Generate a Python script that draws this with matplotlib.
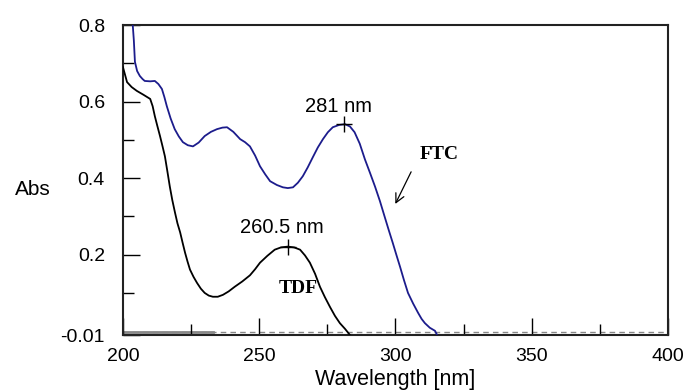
import numpy as np
import matplotlib.pyplot as plt

plt.rcParams['font.family'] = ['Liberation Sans', 'DejaVu Sans']

# FTC spectrum (blue)
ftc_wl = [203.6, 204.0, 204.4, 205.2, 206.2, 207.2, 208.0, 210.0, 211.7, 213.0,
          214.3, 215.2, 216.1, 217.5, 219.0, 220.5, 222.0, 223.8, 225.7, 227.8,
          230.0, 232.3, 234.5, 236.5, 238.2, 240.5, 243.0, 244.8, 246.6, 248.5,
          250.3, 252.2, 254.0, 256.5, 258.7, 260.5, 262.4, 264.2, 266.0, 267.8,
          269.7, 271.5, 273.4, 275.2, 277.0, 279.3, 281.5, 283.3, 285.0, 286.9,
          288.8, 290.7, 292.5, 294.3, 296.0, 297.5, 299.0, 300.4, 301.7, 303.1,
          304.6, 306.5, 308.3, 309.6, 310.8, 312.6, 314.5, 315.3]
ftc_abs = [0.800, 0.760, 0.704, 0.680, 0.667, 0.659, 0.654, 0.653, 0.654, 0.646,
           0.633, 0.612, 0.588, 0.556, 0.528, 0.509, 0.494, 0.486, 0.483, 0.493,
           0.510, 0.521, 0.528, 0.532, 0.533, 0.521, 0.502, 0.494, 0.483, 0.459,
           0.431, 0.410, 0.392, 0.382, 0.376, 0.374, 0.376, 0.388, 0.405, 0.428,
           0.455, 0.480, 0.502, 0.520, 0.533, 0.539, 0.541, 0.535, 0.520, 0.490,
           0.449, 0.413, 0.378, 0.340, 0.300, 0.265, 0.231, 0.198, 0.168, 0.134,
           0.100, 0.072, 0.048, 0.032, 0.021, 0.009, 0.001, -0.010]

# TDF spectrum (black)
tdf_wl = [200.0, 200.7, 201.5, 203.2, 205.1, 207.5, 210.0, 210.9, 211.7, 212.6,
          213.6, 214.5, 215.4, 216.3, 217.2, 218.1, 219.1, 220.0, 221.0, 221.9,
          222.8, 223.7, 224.6, 225.9, 227.2, 228.6, 230.0, 231.5, 233.0, 234.8,
          236.7, 238.8, 241.0, 243.8, 246.6, 248.5, 250.3, 253.0, 255.7, 258.0,
          260.5, 262.8, 265.0, 266.8, 268.6, 270.5, 272.3, 274.1, 276.0, 277.8,
          279.6, 281.5, 283.3]
tdf_abs = [0.690, 0.672, 0.651, 0.638, 0.628, 0.618, 0.607, 0.588, 0.562, 0.537,
           0.510, 0.484, 0.457, 0.418, 0.378, 0.343, 0.310, 0.282, 0.258, 0.231,
           0.205, 0.182, 0.161, 0.142, 0.126, 0.111, 0.100, 0.093, 0.090, 0.090,
           0.095, 0.104, 0.116, 0.130, 0.146, 0.162, 0.179, 0.197, 0.213, 0.219,
           0.221, 0.219, 0.213, 0.198, 0.179, 0.150, 0.116, 0.089, 0.063, 0.040,
           0.021, 0.006, -0.010]

peaks_wl = [281.0, 260.5]
peaks_abs = [0.541, 0.221]
peak_labels = ['281 nm', '260.5 nm']
label_pos = [(279.0, 0.588), (258.4, 0.272)]

fig = plt.figure(figsize=(6.83, 3.92), dpi=100)
ax = fig.add_axes([0.180, 0.1454, 0.798, 0.7906])

ax.axhline(-0.002, color='#888888', lw=1.0, ls=(0, (4, 3)), zorder=1)
ax.plot([200, 233], [-0.002, -0.002], color='#888888', lw=2.0, zorder=1)

ax.plot(ftc_wl, ftc_abs, color='#1c1c8c', lw=1.3, zorder=3)
ax.plot(tdf_wl, tdf_abs, color='black', lw=1.3, zorder=3)
ax.plot(peaks_wl, peaks_abs, ls='none', marker='+', ms=11, mew=1.0,
        color='black', zorder=4)

for (x, y), lab in zip(label_pos, peak_labels):
    ax.text(x, y, lab, ha='center', va='center', fontsize=14.5)

ax.text(309, 0.462, 'FTC', family='Liberation Serif', fontweight='bold',
        fontsize=14, ha='left', va='center')
ax.text(257, 0.112, 'TDF', family='Liberation Serif', fontweight='bold',
        fontsize=14, ha='left', va='center')
ax.annotate('', xy=(299.5, 0.326), xytext=(306.2, 0.423),
            arrowprops=dict(arrowstyle='->', color='black', lw=0.9,
                            mutation_scale=16))

ax.set_xlim(200, 400)
ax.set_ylim(-0.01, 0.8)
ax.set_xticks([200, 250, 300, 350, 400])
ax.set_xticks([225, 275, 325, 375], minor=True)
ax.set_yticks([-0.01, 0.2, 0.4, 0.6, 0.8])
ax.set_yticklabels(['-0.01', '0.2', '0.4', '0.6', '0.8'])
ax.set_yticks([0.1, 0.3, 0.5, 0.7], minor=True)
ax.tick_params(which='both', direction='in', labelsize=14, width=1.0)
ax.tick_params(axis='y', which='major', length=12, pad=13)
ax.tick_params(axis='y', which='minor', length=8)
ax.tick_params(axis='x', which='major', length=12, pad=9)
ax.tick_params(axis='x', which='minor', length=8)

for s in ax.spines.values():
    s.set_linewidth(1.5)
    s.set_color('#222222')

ax.set_xlabel('Wavelength [nm]', fontsize=15.5, labelpad=3)
ax.set_ylabel('Abs', fontsize=15, rotation=0, va='center', ha='center')
ax.yaxis.set_label_coords(-0.165, 0.468)

fig.savefig('out.png', dpi=100)
